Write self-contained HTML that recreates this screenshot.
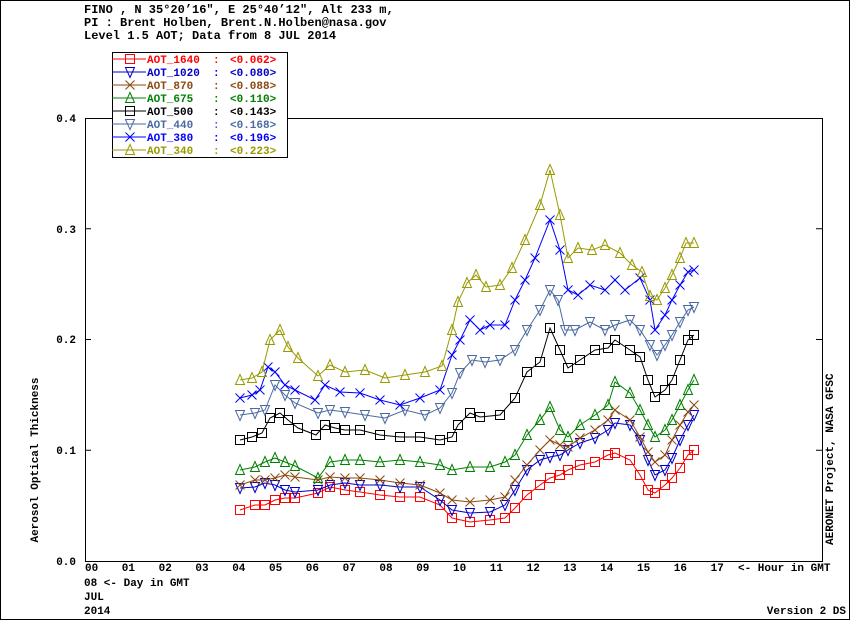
<!DOCTYPE html><html><head><style>
body{margin:0;background:#fff}
svg{display:block;font-family:"Liberation Mono",monospace;font-weight:bold}
</style></head><body>
<svg id="s" width="850" height="620" xmlns="http://www.w3.org/2000/svg">
<rect x="0.5" y="0.5" width="849" height="619" fill="#fff" stroke="#000"/>
<text x="84" y="13" font-size="12">FINO , N 35°20’16", E 25°40’12", Alt 233 m,</text>
<text x="84" y="26" font-size="12">PI : Brent Holben, Brent.N.Holben@nasa.gov</text>
<text x="84" y="39" font-size="12">Level 1.5 AOT; Data from 8 JUL 2014</text>
<rect x="85.5" y="118.5" width="737" height="443" fill="none" stroke="#000"/>
<g font-size="11" text-anchor="end">
<text x="76" y="122">0.4</text><text x="76" y="233">0.3</text><text x="76" y="343">0.2</text><text x="76" y="454">0.1</text><text x="76" y="565">0.0</text>
</g>
<text transform="translate(38,460) rotate(-90)" font-size="11" text-anchor="middle">Aerosol Optical Thickness</text>
<text transform="translate(833,545) rotate(-90)" font-size="11">AERONET Project, NASA GFSC</text>
<g id="xl" font-size="11"></g>
<text x="738" y="571" font-size="11">&lt;- Hour in GMT</text>
<text x="84" y="586" font-size="11">08  &lt;- Day in GMT</text>
<text x="84" y="600" font-size="11">JUL</text>
<text x="84" y="614" font-size="11">2014</text>
<text x="846" y="614" font-size="11" text-anchor="end">Version 2 DS</text>
<g id="d"></g>
<rect x="112.5" y="52.5" width="175" height="105" fill="#fff" stroke="#000"/>
<g id="lg" font-size="11"></g>
</svg>
<script>
var NS="http://www.w3.org/2000/svg";
function el(p,t,a,txt){var e=document.createElementNS(NS,t);for(var k in a)e.setAttribute(k,a[k]);if(txt)e.textContent=txt;p.appendChild(e);return e;}
var xl=document.getElementById('xl');
for(var h=0;h<=17;h++){var x=85+36.8*h;el(xl,'text',{x:x,y:571},(h<10?'0':'')+h);}
var d=document.getElementById('d');
for(var i=1;i<4;i++){var y=118+110.75*i;el(d,'line',{x1:85,y1:y,x2:91,y2:y,stroke:'#000'});el(d,'line',{x1:816,y1:y,x2:822,y2:y,stroke:'#000'});}
function mk(p,m,x,y,c){var r=4.5;
 if(m=='sq')el(p,'rect',{x:x-r,y:y-r,width:2*r,height:2*r,fill:'none',stroke:c});
 else if(m=='tu')el(p,'polygon',{points:(x)+','+(y-r-1)+' '+(x-r)+','+(y+r)+' '+(x+r)+','+(y+r),fill:'none',stroke:c});
 else if(m=='td')el(p,'polygon',{points:(x)+','+(y+r+1)+' '+(x-r)+','+(y-r)+' '+(x+r)+','+(y-r),fill:'none',stroke:c});
 else {el(p,'line',{x1:x-r,y1:y-r,x2:x+r,y2:y+r,stroke:c});el(p,'line',{x1:x-r,y1:y+r,x2:x+r,y2:y-r,stroke:c});}
}
var S=[
['AOT_1640','0.062','#ff0000','sq',[240,510,255,505,265,505,275,500,285,498,295,498,318,493,330,487,345,490,360,492,380,495,400,497,420,497,440,505,452,518,470,522,490,520,505,518,515,508,527,495,540,485,550,478,560,475,568,470,580,465,595,462,608,455,615,453,630,460,640,475,648,490,655,493,665,485,672,478,680,468,688,455,694,450]],
['AOT_1020','0.080','#0000c8','td',[240,488,255,487,265,483,275,485,285,490,295,492,318,490,330,485,345,483,360,485,380,485,400,487,420,487,440,500,452,510,470,513,490,512,505,505,515,490,527,470,540,460,550,457,560,455,568,450,580,443,595,438,608,430,615,423,630,425,640,440,648,460,655,475,665,470,672,458,680,440,688,425,694,415]],
['AOT_870','0.088','#8b4a10','x',[240,485,255,480,265,480,275,478,285,475,295,477,318,480,330,477,345,478,360,478,380,480,400,483,420,485,440,493,452,500,470,502,490,500,505,497,515,480,527,465,540,450,550,440,560,445,568,447,580,438,595,430,608,420,615,410,630,420,640,437,648,452,655,462,665,455,672,440,680,425,688,412,694,405]],
['AOT_675','0.110','#008000','tu',[240,470,255,467,265,462,275,458,285,462,295,466,318,478,330,462,345,460,360,460,380,462,400,460,420,462,440,465,452,470,470,467,490,467,505,462,515,455,527,435,540,420,550,407,560,430,568,437,580,425,595,415,608,405,615,382,630,393,640,410,648,425,655,437,665,430,672,420,680,405,688,390,694,380]],
['AOT_500','0.143','#000000','sq',[240,440,252,437,262,433,270,418,280,413,288,420,298,428,316,435,325,425,335,428,345,430,360,430,380,435,400,437,420,437,440,440,452,437,458,425,470,413,480,417,500,415,515,398,527,372,540,362,550,328,560,350,568,368,580,360,595,350,608,348,615,340,630,350,640,357,648,380,655,397,665,390,672,380,680,360,688,340,694,335]],
['AOT_440','0.168','#4a6aa0','td',[240,415,255,413,265,410,275,385,285,395,295,403,318,413,330,410,345,412,365,415,385,418,405,410,425,415,440,408,452,393,460,373,472,360,485,362,500,360,515,350,527,330,540,310,550,290,558,300,565,330,575,330,590,322,605,330,615,325,630,320,640,330,650,345,657,355,665,345,672,335,680,322,688,310,694,307]],
['AOT_380','0.196','#0000ff','x',[240,398,252,395,260,390,268,367,275,372,285,385,295,390,315,400,325,385,340,392,360,393,380,400,400,405,420,398,440,390,452,355,460,340,470,320,480,330,490,325,505,325,515,300,525,280,535,258,550,220,560,250,568,290,578,295,590,285,605,290,615,280,625,290,640,278,650,300,655,330,665,315,672,300,680,285,688,272,694,270]],
['AOT_340','0.223','#999900','tu',[240,380,252,378,262,372,270,340,280,330,288,347,298,358,318,376,330,365,345,372,365,370,385,378,405,375,425,372,442,366,452,330,458,302,467,283,476,275,486,287,500,285,512,268,525,240,540,205,550,170,560,215,568,258,578,248,592,250,605,245,620,253,632,265,642,272,650,296,657,300,665,288,672,275,680,258,686,243,694,243]]
];
var lg=document.getElementById('lg');
S.forEach(function(s,i){
 var p=s[4],pts=[];for(var j=0;j<p.length;j+=2)pts.push(p[j]+','+p[j+1]);
 var g=el(d,'g',{});
 el(g,'polyline',{points:pts.join(' '),fill:'none',stroke:s[2]});
 for(var j=0;j<p.length;j+=2)mk(g,s[3],p[j],p[j+1],s[2]);
 var y=59+13*i;
 el(lg,'line',{x1:112,y1:y,x2:146,y2:y,stroke:s[2]});
 mk(lg,s[3],130,y,s[2]);
 el(lg,'text',{x:147,y:y+4,fill:s[2]},s[0]);
 el(lg,'text',{x:213,y:y+4,fill:s[2]},':');
 el(lg,'text',{x:230,y:y+4,fill:s[2]},'<'+s[1]+'>');
});
</script>
</body></html>
